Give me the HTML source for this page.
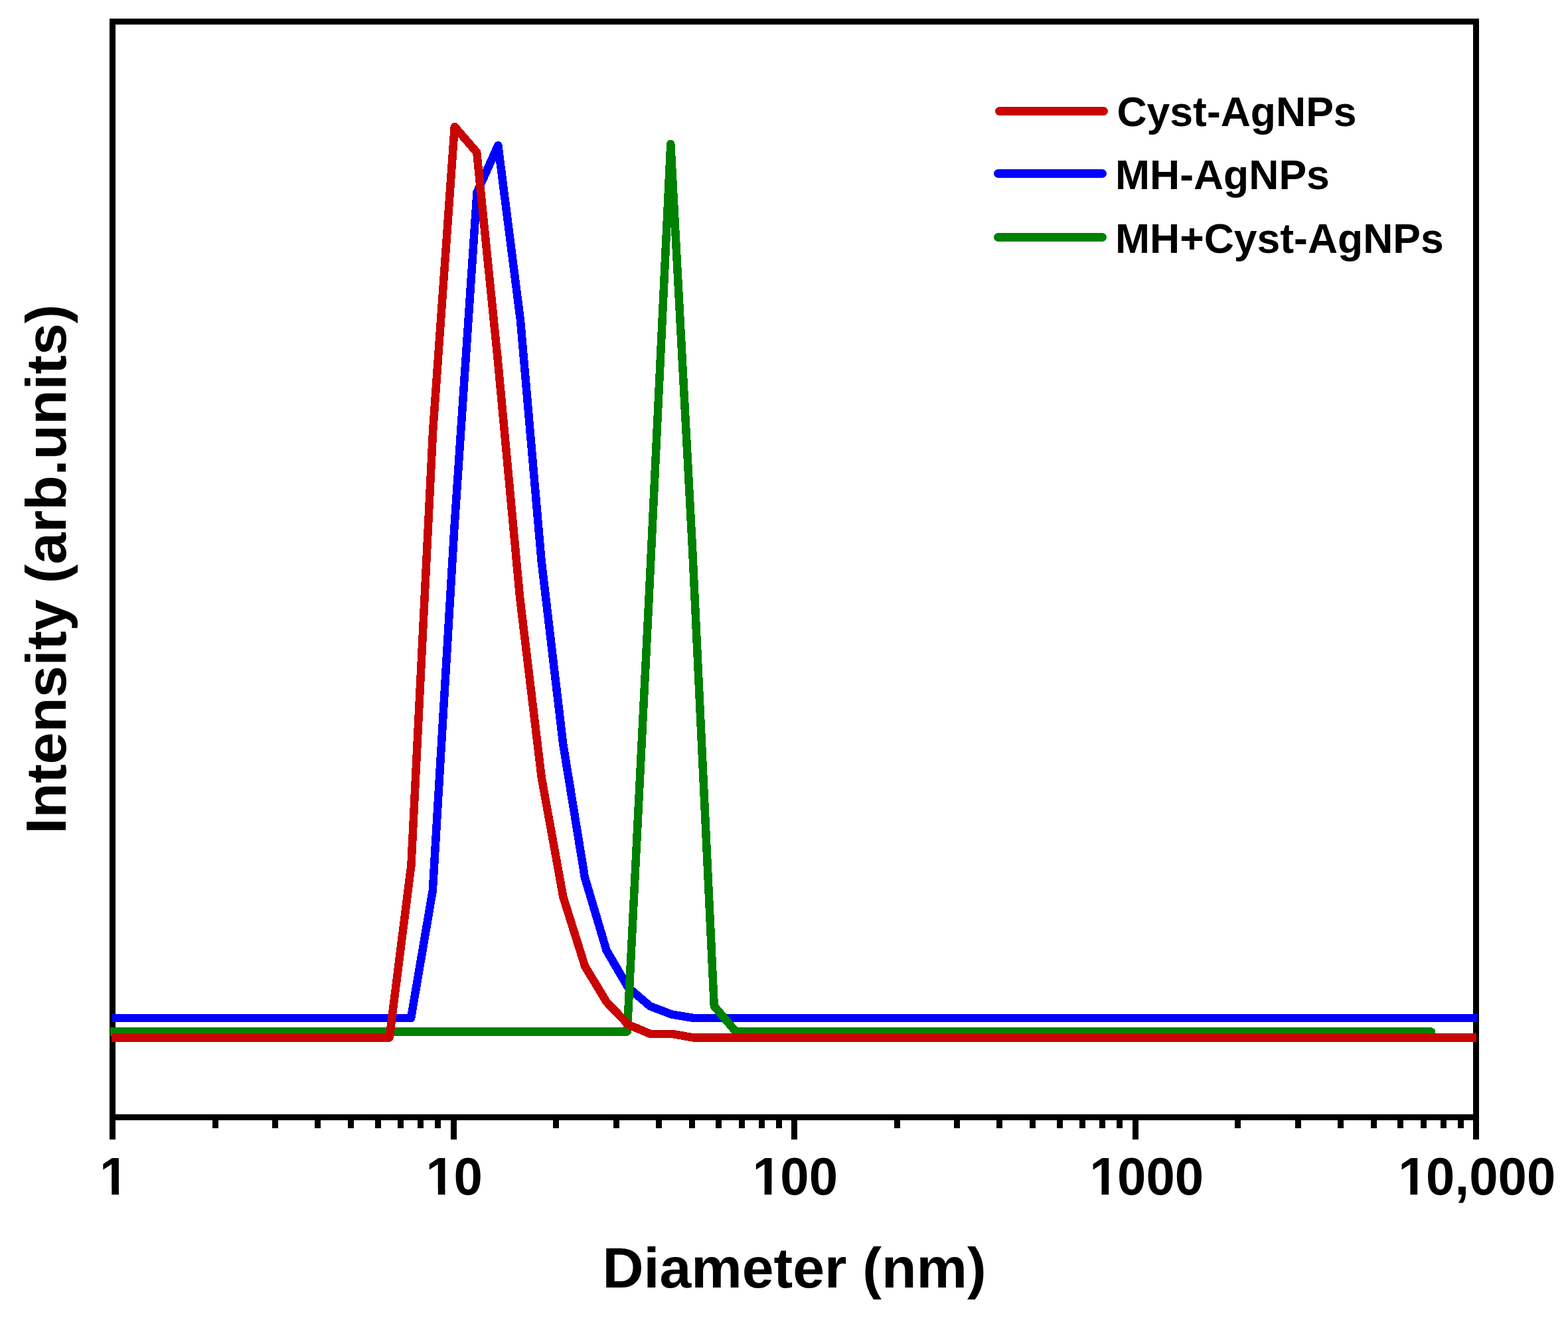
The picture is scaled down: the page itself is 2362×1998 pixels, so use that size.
<!DOCTYPE html>
<html lang="en">
<head>
<meta charset="utf-8">
<title>DLS size distribution</title>
<style>
html,body{margin:0;padding:0;background:#fff;}
body{width:2362px;height:1998px;overflow:hidden;}
svg{display:block;}
text{font-family:"Liberation Sans",Arial,Helvetica,sans-serif;font-weight:bold;fill:#000;}
.tick{font-size:78px;text-anchor:start;}
.leg{font-size:62.5px;}
.ttl{font-size:86px;text-anchor:middle;}
.curve{fill:none;stroke-width:12.5;stroke-linejoin:round;}
</style>
</head>
<body>
<svg width="2362" height="1998" viewBox="0 0 2362 1998">
<rect x="0" y="0" width="2362" height="1998" fill="#ffffff"/>

<g fill="#000" shape-rendering="crispEdges">
<rect x="165" y="28" width="9" height="1689"/>
<rect x="2219" y="28" width="9" height="1689"/>
<rect x="165" y="28" width="2063" height="9"/>
<rect x="165" y="1679" width="2063" height="9"/>
<rect x="320" y="1679" width="9" height="21"/>
<rect x="410" y="1679" width="9" height="21"/>
<rect x="474" y="1679" width="9" height="21"/>
<rect x="524" y="1679" width="9" height="21"/>
<rect x="565" y="1679" width="9" height="21"/>
<rect x="599" y="1679" width="9" height="21"/>
<rect x="629" y="1679" width="9" height="21"/>
<rect x="655" y="1679" width="9" height="21"/>
<rect x="679" y="1679" width="9" height="38"/>
<rect x="833" y="1679" width="9" height="21"/>
<rect x="924" y="1679" width="9" height="21"/>
<rect x="988" y="1679" width="9" height="21"/>
<rect x="1038" y="1679" width="9" height="21"/>
<rect x="1078" y="1679" width="9" height="21"/>
<rect x="1113" y="1679" width="9" height="21"/>
<rect x="1143" y="1679" width="9" height="21"/>
<rect x="1169" y="1679" width="9" height="21"/>
<rect x="1192" y="1679" width="9" height="38"/>
<rect x="1347" y="1679" width="9" height="21"/>
<rect x="1437" y="1679" width="9" height="21"/>
<rect x="1501" y="1679" width="9" height="21"/>
<rect x="1551" y="1679" width="9" height="21"/>
<rect x="1592" y="1679" width="9" height="21"/>
<rect x="1626" y="1679" width="9" height="21"/>
<rect x="1656" y="1679" width="9" height="21"/>
<rect x="1682" y="1679" width="9" height="21"/>
<rect x="1706" y="1679" width="9" height="38"/>
<rect x="1860" y="1679" width="9" height="21"/>
<rect x="1951" y="1679" width="9" height="21"/>
<rect x="2015" y="1679" width="9" height="21"/>
<rect x="2065" y="1679" width="9" height="21"/>
<rect x="2105" y="1679" width="9" height="21"/>
<rect x="2140" y="1679" width="9" height="21"/>
<rect x="2170" y="1679" width="9" height="21"/>
<rect x="2196" y="1679" width="9" height="21"/>
</g>
<polyline class="curve" shape-rendering="crispEdges" stroke="#0000ff" stroke-linecap="butt" points="169.0,1534.0 619.1,1534.0 651.8,1342.0 684.5,794.0 718.5,290.0 750.3,219.0 784.0,483.0 815.5,844.0 848.2,1121.0 880.9,1322.0 913.6,1432.0 946.3,1488.0 979.1,1516.0 1011.8,1528.5 1044.5,1534.0 2225.0,1534.0"/>
<polyline class="curve" shape-rendering="crispEdges" stroke="#008000" stroke-linecap="butt" points="166.0,1554.5 944.8,1554.5"/>
<polyline class="curve" shape-rendering="crispEdges" stroke="#008000" stroke-linecap="round" points="944.8,1554.5 977.6,901.0 1010.3,217.0 1043.0,826.0 1075.8,1516.0 1108.5,1554.5 2155.8,1554.5"/>
<circle cx="1108.5" cy="1554.5" r="2.5" fill="#008000"/>
<polyline class="curve" shape-rendering="crispEdges" stroke="#c80404" stroke-linecap="butt" points="168.0,1563.5 586.6,1563.5 619.4,1304.0 652.1,650.0 684.8,191.0 718.2,229.5 750.2,546.0 783.1,900.0 815.8,1172.0 848.5,1352.0 881.2,1456.0 913.9,1510.0 946.6,1544.0 979.4,1557.8 1012.1,1557.8 1044.8,1563.5 2224.0,1563.5"/>
<g fill="none" stroke-width="13" stroke-linecap="round">
<line x1="1505.5" y1="167.5" x2="1662.5" y2="167.5" stroke="#c80404"/>
<line x1="1503.5" y1="261.5" x2="1660.5" y2="261.5" stroke="#0000ff"/>
<line x1="1503.5" y1="357.5" x2="1660.5" y2="357.5" stroke="#008000"/>
</g>
<text class="leg" transform="translate(1682.5,190.4) scale(1,1.02)">Cyst-AgNPs</text>
<text class="leg" transform="translate(1680,285.2) scale(1,1.02)">MH-AgNPs</text>
<text class="leg" transform="translate(1680,381.4) scale(1,1.02)">MH+Cyst-AgNPs</text>
<text class="tick" x="150.11" transform="translate(0,1800) scale(1,1.032)">1</text>
<text class="tick" x="641.62 683.50" transform="translate(0,1800) scale(1,1.032)">10</text>
<text class="tick" x="1133.43 1175.31 1218.69" transform="translate(0,1800) scale(1,1.032)">100</text>
<text class="tick" x="1641.24 1683.12 1726.50 1769.88" transform="translate(0,1800) scale(1,1.032)">1000</text>
<text class="tick" x="2106.21 2148.09 2191.47 2213.15 2256.53 2299.91" transform="translate(0,1800) scale(1,1.032)">10,000</text>
<g fill="#ffffff"><rect x="153.52" y="1790.49" width="14.79" height="10.91"/><rect x="179.02" y="1790.49" width="13.80" height="10.91"/><rect x="645.03" y="1790.49" width="14.79" height="10.91"/><rect x="670.53" y="1790.49" width="13.80" height="10.91"/><rect x="1136.84" y="1790.49" width="14.79" height="10.91"/><rect x="1162.34" y="1790.49" width="13.80" height="10.91"/><rect x="1644.65" y="1790.49" width="14.79" height="10.91"/><rect x="1670.15" y="1790.49" width="13.80" height="10.91"/><rect x="2109.63" y="1790.49" width="14.79" height="10.91"/><rect x="2135.12" y="1790.49" width="13.80" height="10.91"/></g>
<text class="ttl" transform="translate(1196.5,1940) scale(1,1.0)">Diameter (nm)</text>
<text class="ttl" transform="translate(99,857.5) rotate(-90) scale(1,1.0)">Intensity (arb.units)</text>
</svg>
</body>
</html>
